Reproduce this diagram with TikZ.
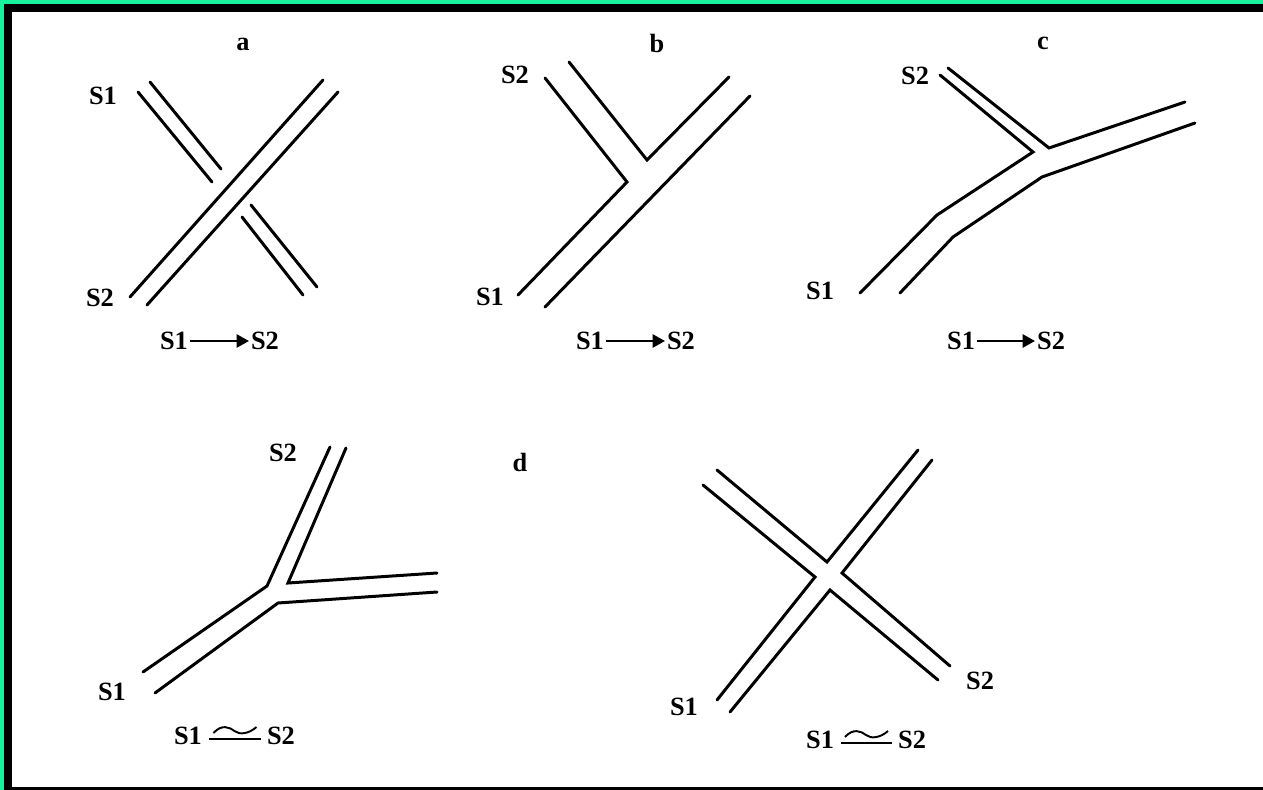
\documentclass[tikz,border=0pt]{standalone}
\usepackage{fontspec}
\setmainfont{Liberation Serif}
\usetikzlibrary{arrows.meta,calc}
\definecolor{MolduraVerde}{RGB}{24,242,156}
\tikzset{
  canal/.style={line width=1.7pt, line join=miter, line cap=round},
  rotulo/.style={font=\fontsize{15}{18}\selectfont\bfseries, inner sep=1pt},
  letra/.style={font=\fontsize{15}{18}\selectfont\bfseries, inner sep=0pt},
  seta/.style={-{Triangle[length=7pt,width=7.5pt]}, line width=1.1pt},
  traco/.style={line width=1.1pt},
}

\begin{document}
\begin{tikzpicture}[x=0.02cm, y=-0.02cm]
  \useasboundingbox (0,0) rectangle (1263,790);

  % Auxiliar: traço com onda entre dois rótulos (quase igual)
  \newcommand{\quaseigual}[3]{% nó esquerdo, nó direito, nome do meio
    \coordinate (#3) at ($(#1.east)!0.5!(#2.west)$);
    \draw[traco, shorten <=3pt, shorten >=2pt] ([yshift=-1.8pt]#1.east) -- ([yshift=-1.8pt]#2.west);
    \draw[traco] ($(#3)+(-21,-3)$) .. controls ($(#3)+(-13,-12)$) and ($(#3)+(-5,-9)$) .. ($(#3)+(0,-5)$)
                 .. controls ($(#3)+(5,-1)$) and ($(#3)+(14,-2)$) .. ($(#3)+(22,-9)$);}

  % Moldura
  \fill[MolduraVerde] (0,0) rectangle (1263,790);
  \fill[black] (4,4) rectangle (1263,790);
  \fill[white] (12,12) rectangle (1263,787);

  % Letras dos painéis
  \node[letra] (la) at (243,44) {a};
  \node[letra] (lb) at (657,43) {b};
  \node[letra] (lc) at (1043,43) {c};
  \node[letra] (ld) at (520,462) {d};

  % Painel a: cruzamento sem contato
  \draw[canal] (130,297) -- (323,80);
  \draw[canal] (147,305) -- (338,92);
  \draw[canal] (138,92) -- (212,182);
  \draw[canal] (150,82) -- (221,169);
  \draw[canal] (242,217) -- (303,295);
  \draw[canal] (251,205) -- (317,287);
  \node[rotulo] (a1) at (103,96) {S1};
  \node[rotulo] (a2) at (100,298) {S2};

  % Painel b: junção em Y
  \draw[canal] (518,295) -- (627,182) -- (545,78);
  \draw[canal] (569,62) -- (647,160) -- (729,77);
  \draw[canal] (545,307) -- (750,96);
  \node[rotulo] (b2) at (515,75) {S2};
  \node[rotulo] (b1) at (490,297) {S1};

  % Painel c: junção com desvio
  \draw[canal] (940,75) -- (1033,152) -- (937,215) -- (860,293);
  \draw[canal] (948,68) -- (1049,148) -- (1185,102);
  \draw[canal] (1195,123) -- (1042,177) -- (953,237) -- (900,293);
  \node[rotulo] (c2) at (915,76) {S2};
  \node[rotulo] (c1) at (820,291) {S1};

  % Painel d, esquerda
  \draw[canal] (143,672) -- (267,586) -- (330,447);
  \draw[canal] (346,448) -- (288,583) -- (437,573);
  \draw[canal] (437,592) -- (278,603) -- (155,693);
  \node[rotulo] (d2) at (283,453) {S2};
  \node[rotulo] (d1) at (112,692) {S1};

  % Painel d, direita
  \draw[canal] (717,470) -- (827,562) -- (918,450);
  \draw[canal] (703,485) -- (815,577) -- (717,700);
  \draw[canal] (932,460) -- (842,573) -- (950,666);
  \draw[canal] (730,712) -- (830,590) -- (938,680);
  \node[rotulo] (e1) at (684,707) {S1};
  \node[rotulo] (e2) at (980,681) {S2};

  % Relações entre S1 e S2
  \node[rotulo] (ra1) at (174,341) {S1};
  \node[rotulo] (ra2) at (265,341) {S2};
  \draw[seta] (ra1) -- (ra2);
  \node[rotulo] (rb1) at (590,341) {S1};
  \node[rotulo] (rb2) at (681,341) {S2};
  \draw[seta] (rb1) -- (rb2);
  \node[rotulo] (rc1) at (961,341) {S1};
  \node[rotulo] (rc2) at (1051,341) {S2};
  \draw[seta] (rc1) -- (rc2);

  \node[rotulo] (rd1) at (188,736) {S1};
  \node[rotulo] (rd2) at (281,736) {S2};
  \quaseigual{rd1}{rd2}{md}
  \node[rotulo] (re1) at (820,740) {S1};
  \node[rotulo] (re2) at (912,740) {S2};
  \quaseigual{re1}{re2}{me}
\end{tikzpicture}
\end{document}
